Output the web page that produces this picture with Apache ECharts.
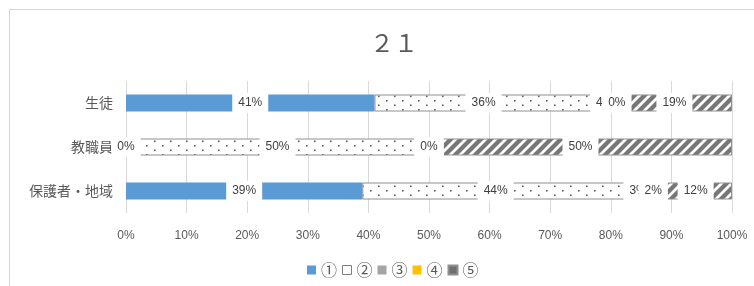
<!DOCTYPE html>
<html>
<head>
<meta charset="utf-8">
<script src="https://cdn.jsdelivr.net/npm/echarts@6/dist/echarts.min.js"></script>
<style>
html,body{margin:0;padding:0;background:#fff;}
#c{width:754px;height:286px;}
</style>
</head>
<body>
<div id="c"></div>
<script>
var categories = ['生徒', '教職員', '保護者・地域'];
var seriesNames = ['①', '②', '③', '④', '⑤'];
var s1 = [41, 0, 39];
var s2 = [36, 50, 44];
var s3 = [4, 0, 3];
var s4 = [0, 0, 2];
var s5 = [19, 50, 12];
var xTicks = [0, 10, 20, 30, 40, 50, 60, 70, 80, 90, 100];
var titleText = '２１';

function dotPattern() {
  var c = document.createElement('canvas');
  c.width = 16; c.height = 9;
  var g = c.getContext('2d');
  g.fillStyle = '#ffffff'; g.fillRect(0, 0, 16, 9);
  g.fillStyle = '#5a5a5a';
  g.fillRect(2, 1, 1.6, 1.6);
  g.fillRect(10, 5.5, 1.6, 1.6);
  return { image: c, repeat: 'repeat' };
}
function stripePattern() {
  var c = document.createElement('canvas');
  c.width = 10; c.height = 10;
  var g = c.getContext('2d');
  g.fillStyle = '#ffffff'; g.fillRect(0, 0, 10, 10);
  g.strokeStyle = '#777777'; g.lineWidth = 4.3;
  g.beginPath();
  g.moveTo(-5, 5); g.lineTo(5, -5);
  g.moveTo(0, 10); g.lineTo(10, 0);
  g.moveTo(5, 15); g.lineTo(15, 5);
  g.stroke();
  return { image: c, repeat: 'repeat' };
}

var values = [s1, s2, s3, s4, s5];
var styles = [
  { color: '#5B9BD5' },
  { color: dotPattern(), borderColor: '#8f8f8f', borderWidth: 1 },
  { color: '#A5A5A5' },
  { color: '#FFC000' },
  { color: stripePattern(), borderColor: '#8f8f8f', borderWidth: 1 }
];
var legendColors = [
  { color: '#5B9BD5' },
  { color: '#ffffff', borderColor: '#7f7f7f', borderWidth: 1 },
  { color: '#A5A5A5' },
  { color: '#FFC000' },
  { color: '#6f6f6f' }
];

var series = seriesNames.map(function (n, i) {
  return {
    name: n,
    type: 'bar',
    stack: 'total',
    barWidth: 17,
    data: values[i],
    itemStyle: styles[i],
    label: {
      show: true,
      position: 'inside',
      formatter: '{c}%',
      color: '#404040',
      fontSize: 12,
      fontFamily: 'Liberation Sans',
      backgroundColor: '#ffffff',
      padding: [4, 6, 3, 6],
      lineHeight: 13
    },
    emphasis: { disabled: true }
  };
});

var chart = echarts.init(document.getElementById('c'), null, { renderer: 'canvas' });
chart.setOption({
  animation: false,
  backgroundColor: '#ffffff',
  title: {
    text: titleText,
    left: 365,
    top: 26,
    textStyle: { fontSize: 24, fontWeight: 'normal', color: '#595959', fontFamily: 'Noto Sans CJK JP' }
  },
  graphic: [{
    type: 'rect',
    shape: { x: 9.5, y: 9.5, width: 900, height: 400 },
    style: { fill: 'none', stroke: '#d6d6d6', lineWidth: 1 },
    silent: true
  }],
  legend: {
    data: seriesNames.map(function (n, i) { return { name: n, itemStyle: legendColors[i] }; }),
    left: 302,
    top: 257,
    itemWidth: 9,
    itemHeight: 9,
    itemGap: 5,
    icon: 'rect',
    textStyle: { fontSize: 16, color: '#595959', fontFamily: 'Noto Sans CJK JP' }
  },
  grid: { left: 126, right: 22, top: 81, height: 132, containLabel: false },
  xAxis: {
    type: 'value',
    min: xTicks[0],
    max: xTicks[xTicks.length - 1],
    interval: 10,
    axisLine: { show: false },
    axisTick: { show: false },
    splitLine: { lineStyle: { color: '#d9d9d9', width: 1 } },
    axisLabel: { formatter: '{value}%', color: '#595959', fontSize: 12, margin: 17, fontFamily: 'Liberation Sans' }
  },
  yAxis: {
    type: 'category',
    data: categories,
    inverse: true,
    axisLine: { show: false },
    axisTick: { show: false },
    axisLabel: { color: '#595959', fontSize: 14, margin: 13, fontFamily: 'Noto Sans CJK JP' }
  },
  series: series
});
</script>
</body>
</html>
